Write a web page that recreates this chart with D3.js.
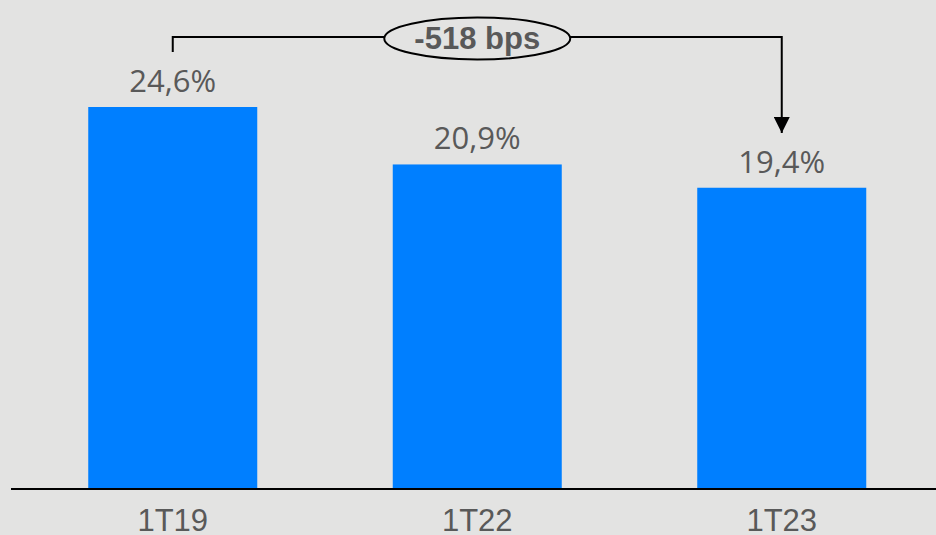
<!DOCTYPE html>
<html>
<head>
<meta charset="utf-8">
<script src="https://cdn.jsdelivr.net/npm/d3@7"></script>
<style>
  html, body { margin: 0; padding: 0; background: #e3e3e2; }
  svg { display: block; }
</style>
</head>
<body>
<svg width="936" height="535"></svg>
<script>
var categories = ['1T19', '1T22', '1T23'];
var values = [24.6, 20.9, 19.4];
var labels = ['24,6%', '20,9%', '19,4%'];
var deltaLabel = '-518 bps';

var svg = d3.select('svg');
var width = +svg.attr('width');
var height = +svg.attr('height');
var baseY = 489;

var x = d3.scaleBand()
    .domain(categories)
    .range([20.5, 934])
    .paddingInner(0.445)
    .paddingOuter(0.2225);

var y = d3.scaleLinear()
    .domain([0, 24.6])
    .range([baseY, 107]);

var data = categories.map((c, i) => ({cat: c, value: values[i], label: labels[i]}));

svg.append('rect')
    .attr('width', width)
    .attr('height', height)
    .attr('fill', '#e3e3e2');

svg.selectAll('rect.bar')
    .data(data)
    .enter()
    .append('rect')
    .attr('class', 'bar')
    .attr('x', d => x(d.cat))
    .attr('y', d => y(d.value))
    .attr('width', x.bandwidth())
    .attr('height', d => baseY - y(d.value))
    .attr('fill', '#007fff');

// value labels
svg.selectAll('text.val')
    .data(data)
    .enter()
    .append('text')
    .attr('class', 'val')
    .attr('x', d => x(d.cat) + x.bandwidth() / 2)
    .attr('y', d => y(d.value) - 15)
    .attr('text-anchor', 'middle')
    .attr('font-family', 'Open Sans, sans-serif')
    .attr('font-size', 31)
    .attr('fill', '#595959')
    .text(d => d.label);

// axis
var axis = svg.append('g')
    .attr('transform', 'translate(0,' + baseY + ')')
    .call(d3.axisBottom(x).tickSize(0).tickPadding(20));
axis.select('.domain').remove();
axis.append('line')
    .attr('x1', 11).attr('x2', width)
    .attr('stroke', '#000').attr('stroke-width', 2);
axis.selectAll('text')
    .attr('font-family', 'Liberation Sans Narrow, Arial Narrow, sans-serif')
    .attr('font-size', 31)
    .attr('fill', '#595959');

// delta annotation
var x0 = x(categories[0]) + x.bandwidth() / 2;
var x2 = x(categories[2]) + x.bandwidth() / 2;
var xm = x(categories[1]) + x.bandwidth() / 2;
var lineY = 37;

svg.append('defs').append('marker')
    .attr('id', 'arrow')
    .attr('viewBox', '0 0 10 10')
    .attr('refX', 10).attr('refY', 5)
    .attr('markerWidth', 8).attr('markerHeight', 8)
    .attr('markerUnits', 'userSpaceOnUse')
    .attr('orient', 'auto')
    .append('path')
    .attr('d', 'M0,0L10,5L0,10Z')
    .attr('fill', '#000');

svg.select('#arrow')
    .attr('markerWidth', 16).attr('markerHeight', 16);

svg.append('path')
    .attr('d', d3.line()([[x0, 52], [x0, lineY], [x2, lineY], [x2, 133]]))
    .attr('fill', 'none')
    .attr('stroke', '#000')
    .attr('stroke-width', 2)
    .attr('marker-end', 'url(#arrow)');

svg.append('ellipse')
    .attr('cx', xm).attr('cy', 38.5)
    .attr('rx', 93).attr('ry', 21)
    .attr('fill', '#e3e3e2')
    .attr('stroke', '#000')
    .attr('stroke-width', 2);

svg.append('text')
    .attr('x', xm)
    .attr('y', 49)
    .attr('text-anchor', 'middle')
    .attr('font-family', 'Liberation Sans Narrow, Arial Narrow, sans-serif')
    .attr('font-weight', 'bold')
    .attr('font-size', 31)
    .attr('fill', '#595959')
    .text(deltaLabel);
</script>
</body>
</html>
